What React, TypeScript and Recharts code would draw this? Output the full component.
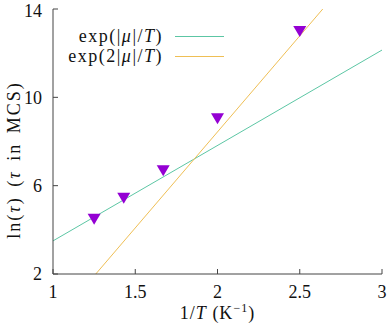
import { ComposedChart, Line, Scatter, XAxis, YAxis, Legend } from 'recharts';

// measured points: 1/T (K^-1) vs ln(tau)
const invTemp = [1.25, 1.43, 1.67, 2.0, 2.5];
const lnTau = [4.5, 5.45, 6.7, 9.05, 13.0];

// fitted lines, end points
const fitOneX = [1, 3];
const fitOneY = [3.5, 12.14];
const fitTwoX = [1.26, 2.64];
const fitTwoY = [2, 14];

const xTicks = [1, 1.5, 2, 2.5, 3];
const yTicks = [2, 6, 10, 14];

const FONT = '"Liberation Serif", serif';
const FS = 18;
const GREEN = '#5cc6a4';
const ORANGE = '#efbf55';
const PURPLE = '#9400d3';
const FRAME = '#444';

const points = invTemp.map((x, i) => ({ x, y: lnTau[i] }));
const fitOne = fitOneX.map((x, i) => ({ x, y: fitOneY[i] }));
const fitTwo = fitTwoX.map((x, i) => ({ x, y: fitTwoY[i] }));

const DownTriangle = (props: any) => {
  const { cx, cy } = props;
  return <path d={`M${cx - 6.5},${cy - 5} L${cx + 6.5},${cy - 5} L${cx},${cy + 6} Z`} fill={PURPLE} />;
};

const legendLabels: Record<string, any> = {
  fitOne: (
    <>
      exp(|<i>μ</i>|/<i>T</i>)
    </>
  ),
  fitTwo: (
    <>
      exp(2|<i>μ</i>|/<i>T</i>)
    </>
  ),
};

const renderLegend = (props: any) => {
  const items = (props.payload || []).filter((p: any) => legendLabels[p.value]);
  return (
    <div style={{ fontFamily: FONT, fontSize: FS, color: '#111' }}>
      {items.map((p: any) => (
        <div key={p.value} style={{ display: 'flex', alignItems: 'center', height: 20.6 }}>
          <span style={{ width: 103, textAlign: 'right', letterSpacing: 1.5, whiteSpace: 'nowrap' }}>
            {legendLabels[p.value]}
          </span>
          <span style={{ display: 'inline-block', marginLeft: 12, width: 49, height: 1, background: p.color }} />
        </div>
      ))}
    </div>
  );
};

const noLabel = () => <g />;

const tickStyle = { fontFamily: FONT, fontSize: FS, fill: '#111' };

export default function App() {
  return (
    <div style={{ position: 'fixed', left: 0, top: 0, background: '#fff' }}>
      <ComposedChart width={387} height={324} margin={{ top: 9, right: 5, left: 0, bottom: 0 }}>
        <XAxis
          xAxisId="b"
          dataKey="x"
          type="number"
          domain={[1, 3]}
          ticks={xTicks}
          allowDataOverflow
          height={50}
          tickSize={-5}
          tickMargin={16}
          axisLine={{ stroke: FRAME }}
          tickLine={{ stroke: FRAME }}
          tick={tickStyle}
          label={{
            content: (p: any) => {
              const vb = p.viewBox;
              return (
                <text
                  x={vb.x + vb.width / 2}
                  y={vb.y + 45}
                  textAnchor="middle"
                  style={{ fontFamily: FONT, fontSize: FS, letterSpacing: 1 }}
                  fill="#111"
                >
                  1/<tspan fontStyle="italic">T</tspan> (K
                  <tspan dy={-7} fontSize={12}>−1</tspan>
                  <tspan dy={7}>)</tspan>
                </text>
              );
            },
          }}
        />
        <XAxis
          xAxisId="t"
          orientation="top"
          dataKey="x"
          type="number"
          domain={[1, 3]}
          ticks={xTicks}
          allowDataOverflow
          height={0}
          tickSize={-5}
          axisLine={{ stroke: FRAME }}
          tickLine={{ stroke: FRAME }}
          tick={noLabel}
        />
        <YAxis
          yAxisId="l"
          type="number"
          domain={[2, 14]}
          ticks={yTicks}
          allowDataOverflow
          width={53}
          tickSize={-5}
          tickMargin={16}
          axisLine={{ stroke: FRAME }}
          tickLine={{ stroke: FRAME }}
          tick={tickStyle}
          label={{
            content: () => (
              <text
                x={14}
                y={160}
                transform="rotate(-90 14 160)"
                textAnchor="middle"
                dominantBaseline="central"
                style={{ fontFamily: FONT, fontSize: FS, letterSpacing: 2, wordSpacing: 3 }}
                fill="#111"
              >
                ln(<tspan fontStyle="italic">τ</tspan>) (<tspan fontStyle="italic">τ</tspan> in MCS)
              </text>
            ),
          }}
        />
        <YAxis
          yAxisId="r"
          orientation="right"
          type="number"
          domain={[2, 14]}
          ticks={yTicks}
          allowDataOverflow
          width={0}
          tickSize={-5}
          axisLine={{ stroke: FRAME }}
          tickLine={{ stroke: FRAME }}
          tick={noLabel}
        />
        <Legend
          content={renderLegend}
          layout="vertical"
          verticalAlign="middle"
          align="center"
          wrapperStyle={{ position: 'absolute', left: 60, top: 26, width: 180 }}
        />
        <Line
          xAxisId="b"
          yAxisId="l"
          name="fitOne"
          data={fitOne}
          dataKey="y"
          type="linear"
          stroke={GREEN}
          strokeWidth={1}
          dot={false}
          activeDot={false}
          isAnimationActive={false}
        />
        <Line
          xAxisId="b"
          yAxisId="l"
          name="fitTwo"
          data={fitTwo}
          dataKey="y"
          type="linear"
          stroke={ORANGE}
          strokeWidth={1}
          dot={false}
          activeDot={false}
          isAnimationActive={false}
        />
        <Scatter
          xAxisId="b"
          yAxisId="l"
          name="data"
          data={points}
          dataKey="y"
          fill={PURPLE}
          shape={DownTriangle}
          legendType="none"
          isAnimationActive={false}
        />
      </ComposedChart>
    </div>
  );
}
